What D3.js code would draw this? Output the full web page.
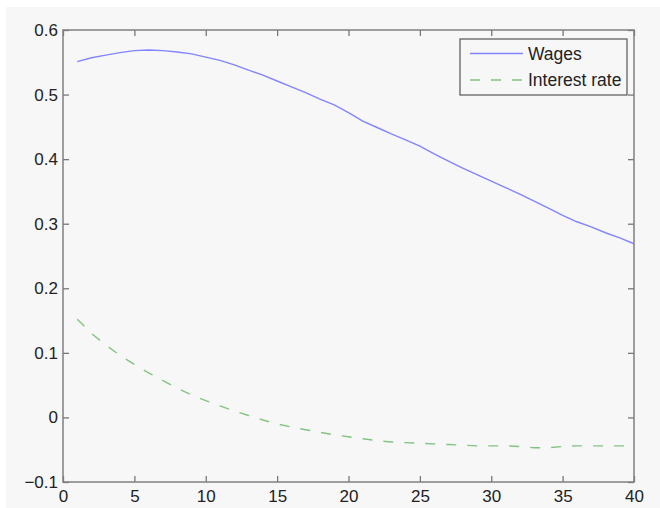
<!DOCTYPE html>
<html>
<head>
<meta charset="utf-8">
<script src="https://cdn.jsdelivr.net/npm/d3@7"></script>
<style>
  body { margin: 0; background: #ffffff; }
  text { font-family: Arial, "Liberation Sans", sans-serif; }
</style>
</head>
<body>
<div id="chart"></div>
<script>
// data
var periods = d3.range(1, 41);
var wages = [0.551, 0.557, 0.561, 0.565, 0.568, 0.569, 0.568, 0.566, 0.563, 0.558,
             0.553, 0.546, 0.538, 0.530, 0.521, 0.512, 0.503, 0.493, 0.484, 0.472,
             0.459, 0.449, 0.439, 0.430, 0.420, 0.408, 0.397, 0.386, 0.376, 0.366,
             0.356, 0.346, 0.335, 0.324, 0.313, 0.303, 0.295, 0.286, 0.278, 0.269];
var interest = [0.152, 0.130, 0.112, 0.096, 0.082, 0.069, 0.057, 0.045, 0.035, 0.026,
                0.018, 0.010, 0.003, -0.004, -0.010, -0.015, -0.019, -0.023, -0.027, -0.030,
                -0.033, -0.036, -0.038, -0.039, -0.040, -0.041, -0.042, -0.043, -0.044, -0.044,
                -0.044, -0.045, -0.047, -0.047, -0.045, -0.044, -0.044, -0.044, -0.044, -0.044];
var xTicks = [0, 5, 10, 15, 20, 25, 30, 35, 40];
var yTicks = [-0.1, 0, 0.1, 0.2, 0.3, 0.4, 0.5, 0.6];
var seriesNames = ["Wages", "Interest rate"];

var svgWidth = 660;
var svgHeight = 508;
var margin = { top: 30, right: 26, bottom: 26, left: 63 };
var width = svgWidth - margin.left - margin.right;
var height = svgHeight - margin.top - margin.bottom;

var svg = d3.select("#chart")
  .append("svg")
  .attr("width", svgWidth)
  .attr("height", svgHeight);

// figure background
svg.append("rect")
  .attr("x", 6).attr("y", 7)
  .attr("width", svgWidth - 6).attr("height", svgHeight - 7)
  .attr("fill", "#f7f7f7");

var chartGroup = svg.append("g")
  .attr("transform", `translate(${margin.left}, ${margin.top})`);

var x = d3.scaleLinear().domain([0, 40]).range([0, width]);
var y = d3.scaleLinear().domain([-0.1, 0.6]).range([height, 0]);

// axes (ticks point inward, like matlab)
var bottomAxis = d3.axisBottom(x).tickValues(xTicks).tickSizeInner(-6).tickSizeOuter(0).tickPadding(8);
var leftAxis = d3.axisLeft(y).tickValues(yTicks).tickSizeInner(-6).tickSizeOuter(0).tickPadding(5)
  .tickFormat(function(d) { return d < 0 ? "\u22120.1" : d3.format("")(+d.toFixed(1)); });
var topAxis = d3.axisTop(x).tickValues(xTicks).tickSizeInner(-6).tickSizeOuter(0).tickFormat("");
var rightAxis = d3.axisRight(y).tickValues(yTicks).tickSizeInner(-6).tickSizeOuter(0).tickFormat("");

var gx = chartGroup.append("g").attr("transform", `translate(0, ${height})`).call(bottomAxis);
var gy = chartGroup.append("g").call(leftAxis);
var gt = chartGroup.append("g").call(topAxis);
var gr = chartGroup.append("g").attr("transform", `translate(${width}, 0)`).call(rightAxis);

[gx, gy, gt, gr].forEach(function(g) {
  g.select(".domain").remove();
  g.selectAll(".tick line").attr("stroke", "#777").attr("stroke-width", 1.3);
  g.selectAll(".tick text").attr("fill", "#222").attr("font-size", "17px");
});

// frame
chartGroup.append("rect")
  .attr("width", width).attr("height", height)
  .attr("fill", "none")
  .attr("stroke", "#808080")
  .attr("stroke-width", 1.5);

// lines
var wageLine = d3.line().x(function(d, i) { return x(periods[i]); }).y(function(d) { return y(d); });

chartGroup.append("path")
  .datum(wages)
  .attr("d", wageLine)
  .attr("fill", "none")
  .attr("stroke", "#8484ff")
  .attr("stroke-width", 1.4);

chartGroup.append("path")
  .datum(interest)
  .attr("d", wageLine)
  .attr("fill", "none")
  .attr("stroke", "#82c482")
  .attr("stroke-width", 1.4)
  .attr("stroke-dasharray", "10,11");

// legend
var legend = svg.append("g").attr("transform", "translate(460, 39)");
legend.append("rect")
  .attr("width", 167).attr("height", 56)
  .attr("fill", "#f7f7f7")
  .attr("stroke", "#555")
  .attr("stroke-width", 1.2);

var styles = [
  { stroke: "#8484ff", dash: null },
  { stroke: "#82c482", dash: "10,11" }
];
seriesNames.forEach(function(name, i) {
  var ly = 14.5 + i * 26.5;
  legend.append("line")
    .attr("x1", 10).attr("x2", 63)
    .attr("y1", ly).attr("y2", ly)
    .attr("stroke", styles[i].stroke)
    .attr("stroke-width", 1.4)
    .attr("stroke-dasharray", styles[i].dash);
  legend.append("text")
    .attr("x", 68).attr("y", ly)
    .attr("dy", "0.36em")
    .attr("font-size", "17.5px")
    .attr("fill", "#222")
    .text(name);
});
</script>
</body>
</html>
